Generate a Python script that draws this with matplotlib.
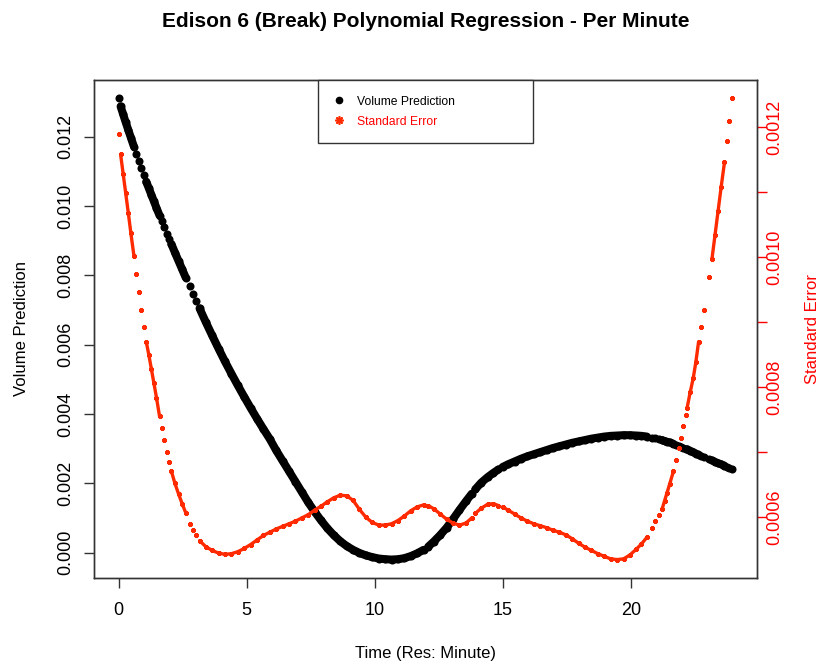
import numpy as np
import matplotlib
matplotlib.use("Agg")
import matplotlib.pyplot as plt
import matplotlib.lines as mlines

plt.rcParams['font.family'] = ['Liberation Sans', 'DejaVu Sans']

# Sample times (minutes) and the fitted values at each of them
time = np.array([
    0.00,
    0.08, 0.18, 0.28, 0.38, 0.48, 0.60,
    0.69, 0.79, 0.89, 0.99,
    1.08, 1.18, 1.28, 1.38, 1.48, 1.60,
    1.69, 1.79, 1.89, 1.98,
    2.06, 2.20, 2.34, 2.48, 2.62,
    2.77, 2.90, 3.03,
    3.16, 3.40, 3.65, 3.90, 4.15, 4.40, 4.65, 4.90, 5.15, 5.40, 5.65, 5.90,
    6.15, 6.40, 6.65, 6.90, 7.15, 7.40, 7.65, 7.90, 8.15, 8.40, 8.65, 8.90,
    9.15, 9.40, 9.65, 9.90, 10.15, 10.40, 10.65, 10.90, 11.15, 11.40, 11.65, 11.90,
    12.08, 12.30, 12.55, 12.80, 13.05, 13.30, 13.55, 13.78,
    13.92, 14.15, 14.40, 14.62, 14.82,
    14.98, 15.20, 15.45, 15.70, 15.95, 16.20, 16.45, 16.70, 16.95, 17.20, 17.45, 17.70,
    17.95, 18.20, 18.45, 18.70, 18.95, 19.20, 19.45, 19.70, 19.95, 20.20, 20.40, 20.61,
    20.80, 20.94, 21.07,
    21.20, 21.30, 21.40, 21.50, 21.65,
    21.74, 21.85, 21.95, 22.04, 22.12,
    22.18, 22.30, 22.42, 22.52, 22.63,
    22.73, 22.85, 23.03,
    23.15, 23.27, 23.39, 23.51, 23.64,
    23.74, 23.83, 23.95,
])

volume = np.array([
    0.01311,
    0.01288, 0.01265, 0.01242, 0.01220, 0.01198, 0.01172,
    0.01152, 0.01131, 0.01110, 0.01090,
    0.01071, 0.01052, 0.01033, 0.01014, 0.00995, 0.00973,
    0.00957, 0.00939, 0.00921, 0.00905,
    0.00891, 0.00866, 0.00842, 0.00818, 0.00794,
    0.00769, 0.00747, 0.00726,
    0.00705, 0.00666, 0.00627, 0.00589, 0.00552, 0.00517, 0.00483, 0.00450, 0.00418, 0.00387, 0.00357, 0.00328,
    0.00295, 0.00265, 0.00235, 0.00205, 0.00175, 0.00145, 0.00118, 0.00093, 0.00070, 0.00050, 0.00033, 0.00019,
    0.00008, -0.00001, -0.00008, -0.00013, -0.00017, -0.00019, -0.00020, -0.00019, -0.00016, -0.00010, -0.00002, 0.00008,
    0.00017, 0.00032, 0.00051, 0.00072, 0.00097, 0.00123, 0.00148, 0.00170,
    0.00183, 0.00202, 0.00218, 0.00230, 0.00240,
    0.00247, 0.00255, 0.00263, 0.00271, 0.00278, 0.00284, 0.00290, 0.00296, 0.00302, 0.00307, 0.00312, 0.00317,
    0.00321, 0.00325, 0.00329, 0.00332, 0.00335, 0.00337, 0.00338, 0.00339, 0.00339, 0.00338, 0.00337, 0.00335,
    0.00332, 0.00330, 0.00327,
    0.00325, 0.00322, 0.00320, 0.00318, 0.00314,
    0.00311, 0.00308, 0.00305, 0.00302, 0.00300,
    0.00298, 0.00294, 0.00290, 0.00286, 0.00283,
    0.00280, 0.00276, 0.00270,
    0.00266, 0.00262, 0.00258, 0.00255, 0.00251,
    0.00248, 0.00245, 0.00241,
])

std_err = np.array([
    0.001190,
    0.001158, 0.001128, 0.001098, 0.001068, 0.001037, 0.001002,
    0.000974, 0.000946, 0.000919, 0.000893,
    0.000870, 0.000850, 0.000828, 0.000806, 0.000784, 0.000755,
    0.000737, 0.000719, 0.000701, 0.000685,
    0.000671, 0.000652, 0.000636, 0.000621, 0.000607,
    0.000589, 0.000580, 0.000573,
    0.000564, 0.000555, 0.000549, 0.000545, 0.000543, 0.000544, 0.000547, 0.000552, 0.000558, 0.000565, 0.000572, 0.000577,
    0.000582, 0.000586, 0.000590, 0.000594, 0.000599, 0.000604, 0.000611, 0.000617, 0.000624, 0.000630, 0.000634, 0.000633,
    0.000626, 0.000612, 0.000600, 0.000592, 0.000588, 0.000588, 0.000590, 0.000595, 0.000602, 0.000610, 0.000616, 0.000619,
    0.000618, 0.000613, 0.000605, 0.000597, 0.000591, 0.000588, 0.000591, 0.000599,
    0.000606, 0.000614, 0.000620, 0.000621, 0.000618,
    0.000616, 0.000611, 0.000605, 0.000599, 0.000594, 0.000590, 0.000587, 0.000584, 0.000580, 0.000577, 0.000573, 0.000567,
    0.000560, 0.000554, 0.000549, 0.000544, 0.000540, 0.000536, 0.000535, 0.000536, 0.000542, 0.000551, 0.000559, 0.000569,
    0.000584, 0.000594, 0.000604,
    0.000612, 0.000625, 0.000638, 0.000651, 0.000671,
    0.000688, 0.000706, 0.000722, 0.000740, 0.000757,
    0.000768, 0.000792, 0.000814, 0.000838, 0.000870,
    0.000893, 0.000918, 0.000970,
    0.000997, 0.001034, 0.001071, 0.001108, 0.001146,
    0.001178, 0.001210, 0.001244,
])

# Stretches of continuous logging (start, end) in minutes
log_runs = [(0.08, 0.60), (1.08, 1.60), (2.06, 2.62), (3.16, 11.90),
            (12.08, 13.78), (13.92, 14.82), (14.98, 20.61), (21.20, 21.65),
            (22.18, 22.63), (23.15, 23.64)]

se_red = '#ff2a00'
asterisk = (8, 2, 0)

fig = plt.figure(figsize=(8.21, 6.69), dpi=100)
ax = fig.add_axes([94 / 821, 91 / 669, 663 / 821, 498 / 669])
ax2 = ax.twinx()

for start, end in log_runs:
    m = (time >= start - 1e-9) & (time <= end + 1e-9)
    ax.plot(time[m], volume[m], color='black', lw=5.8, solid_capstyle='round',
            solid_joinstyle='round')
    ax2.plot(time[m], std_err[m], color=se_red, lw=2.4, solid_capstyle='round',
             solid_joinstyle='round')

ax.plot(time, volume, linestyle='none', marker='o', color='black', markersize=5.8,
        markeredgewidth=0)
ax2.plot(time, std_err, linestyle='none', marker=asterisk, color=se_red,
         markersize=3.4, markeredgewidth=1.0)

ax.margins(x=0.04, y=0.04)
ax2.margins(x=0.04, y=0.04)

# axes, ticks, labels
for a in (ax, ax2):
    for s in a.spines.values():
        s.set_color('#333333')
        s.set_linewidth(1.0)

ax.set_xticks([0, 5, 10, 15, 20])
ax.set_yticks([0.000, 0.002, 0.004, 0.006, 0.008, 0.010, 0.012])
ax.set_yticklabels(['0.000', '0.002', '0.004', '0.006', '0.008', '0.010', '0.012'],
                   rotation=90, va='center')
ax.tick_params(axis='both', direction='out', length=7, width=1, color='#333333',
               labelsize=13, pad=7)
ax.tick_params(axis='x', pad=10)

ax2.set_yticks([0.0006, 0.0007, 0.0008, 0.0009, 0.0010, 0.0011, 0.0012])
ax2.set_yticklabels(['0.0006', '', '0.0008', '', '0.0010', '', '0.0012'],
                    rotation=90, va='center')
ax2.tick_params(axis='y', direction='out', length=7, width=1, colors='red',
                labelsize=13, pad=0)

ax.set_xlabel('Time (Res: Minute)', fontsize=12)
ax.xaxis.set_label_coords(0.5, -0.151)
ax.xaxis.label.set_va('center')
ax.set_ylabel('Volume Prediction', fontsize=12)
ax.yaxis.set_label_coords(-0.1086, 0.5)
ax.yaxis.label.set_va('center')
ax2.set_ylabel('Standard Error', fontsize=12, color='red')
ax2.yaxis.set_label_coords(1.083, 0.5)
ax2.yaxis.label.set_va('center')

ax.set_title('Edison 6 (Break) Polynomial Regression - Per Minute',
             fontsize=15, fontweight='bold', y=1.118, pad=0, va='center')

handles = [
    mlines.Line2D([], [], color='black', marker='o', linestyle='None', markersize=4.5,
                  label='Volume Prediction'),
    mlines.Line2D([], [], color=se_red, marker=asterisk, linestyle='None', markersize=6,
                  markeredgewidth=1.2, label='Standard Error'),
]
leg = ax2.legend(handles=handles, loc='upper left', mode='expand',
                 bbox_to_anchor=(0.338, 0.8775, 0.324, 0.1225), borderaxespad=0,
                 fontsize=8.7, labelcolor=['black', 'red'], frameon=True, fancybox=False,
                 edgecolor='#333333', framealpha=1, borderpad=1.3, labelspacing=0.65,
                 handlelength=0.9, handletextpad=1.0)
leg.get_frame().set_linewidth(1.0)

fig.savefig('out.png', dpi=100)
